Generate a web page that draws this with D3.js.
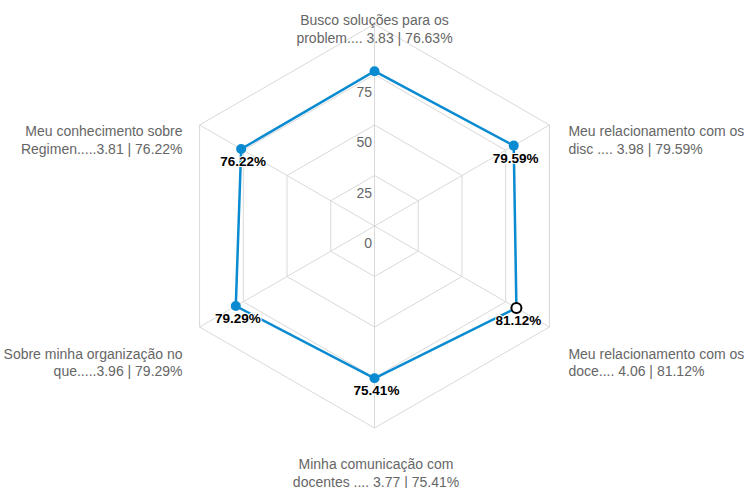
<!DOCTYPE html>
<html><head><meta charset="utf-8">
<script src="https://cdn.jsdelivr.net/npm/d3@7"></script>
<style>body{margin:0;background:#fff}svg{display:block;font-family:"Liberation Sans",Arial,sans-serif}</style>
</head><body><svg id="c" width="747" height="488"></svg>
<script>
const labelLine1 = ["Busco soluções para os","Meu relacionamento com os","Meu relacionamento com os","Minha comunicação com","Sobre minha organização no","Meu conhecimento sobre"];
const labelLine2 = ["problem.... 3.83 | 76.63%","disc .... 3.98 | 79.59%","doce.... 4.06 | 81.12%","docentes .... 3.77 | 75.41%","que.....3.96 | 79.29%","Regimen.....3.81 | 76.22%"];
const values = [76.63, 79.59, 81.12, 75.41, 79.29, 76.22];
const showDataLabel = [false, true, true, true, true, true];
const ticks = [0, 25, 50, 75];
const rings = [25, 50, 75, 100];
const hovered = 2;

const svg = d3.select("#c");
const cx = 374.5, cy = 226, R = 202;
const n = values.length;
const r = d3.scaleLinear().domain([0, 100]).range([0, R]);
const ang = i => i * 2 * Math.PI / n;
const pt = (i, v) => [cx + r(v) * Math.sin(ang(i)), cy - r(v) * Math.cos(ang(i))];

const grid = svg.append("g");
rings.forEach(v => {
  grid.append("path")
    .attr("d", d3.line()(d3.range(n).map(i => pt(i, v))) + "Z")
    .attr("fill", "none").attr("stroke", "#d9d9d9").attr("stroke-width", 1);
});
d3.range(n).forEach(i => {
  const [x, y] = pt(i, 100);
  grid.append("line").attr("x1", cx).attr("y1", cy).attr("x2", x).attr("y2", y)
    .attr("stroke", "#d9d9d9").attr("stroke-width", 1);
});

// tick labels
svg.append("g").selectAll("text").data(ticks).join("text")
  .attr("x", cx - 2.5).attr("y", d => cy - r(d) + 22)
  .attr("text-anchor", "end").attr("font-size", 14).attr("fill", "#666")
  .text(d => d);

// series
const line = d3.line().curve(d3.curveLinearClosed);
svg.append("path").attr("d", line(values.map((v, i) => pt(i, v))))
  .attr("fill", "none").attr("stroke", "#0a8bd1").attr("stroke-width", 2.5);

svg.append("g").selectAll("circle").data(values).join("circle")
  .attr("cx", (d, i) => pt(i, d)[0]).attr("cy", (d, i) => pt(i, d)[1])
  .attr("r", 5)
  .attr("fill", (d, i) => i === hovered ? "#fff" : "#0a8bd1")
  .attr("stroke", (d, i) => i === hovered ? "#000" : "none")
  .attr("stroke-width", 2);

// data labels
svg.append("g").selectAll("text").data(values.map((v, i) => ({v, i})).filter(d => showDataLabel[d.i])).join("text")
  .attr("x", d => pt(d.i, d.v)[0] + 2).attr("y", d => pt(d.i, d.v)[1] + 17)
  .attr("text-anchor", "middle").attr("font-size", 13.5).attr("font-weight", "bold")
  .attr("fill", "#000").attr("stroke", "#fff").attr("stroke-width", 2)
  .attr("paint-order", "stroke").attr("stroke-linejoin", "round")
  .text(d => d.v.toFixed(2) + "%");

// axis labels
const lab = svg.append("g");
d3.range(n).forEach(i => {
  const a = ang(i), s = Math.sin(a), c = Math.cos(a);
  const px = cx + (R + 15) * s, py = cy - (R + 15) * c;
  const anchor = Math.abs(s) < 0.01 ? "middle" : (s > 0 ? "start" : "end");
  const x = anchor === "middle" ? px + (c < 0 ? 1.5 : 0) : (s > 0 ? px + 6 : px - 4);
  const y0 = py + 21.5 - 5.5 * c - (c < -0.9 ? 1 : 0);
  const t = lab.append("text").attr("text-anchor", anchor).attr("font-size", 14).attr("fill", "#666");
  t.append("tspan").attr("x", x).attr("y", y0).text(labelLine1[i]);
  t.append("tspan").attr("x", x).attr("y", y0 + 17.5).text(labelLine2[i]);
});
</script></body></html>
